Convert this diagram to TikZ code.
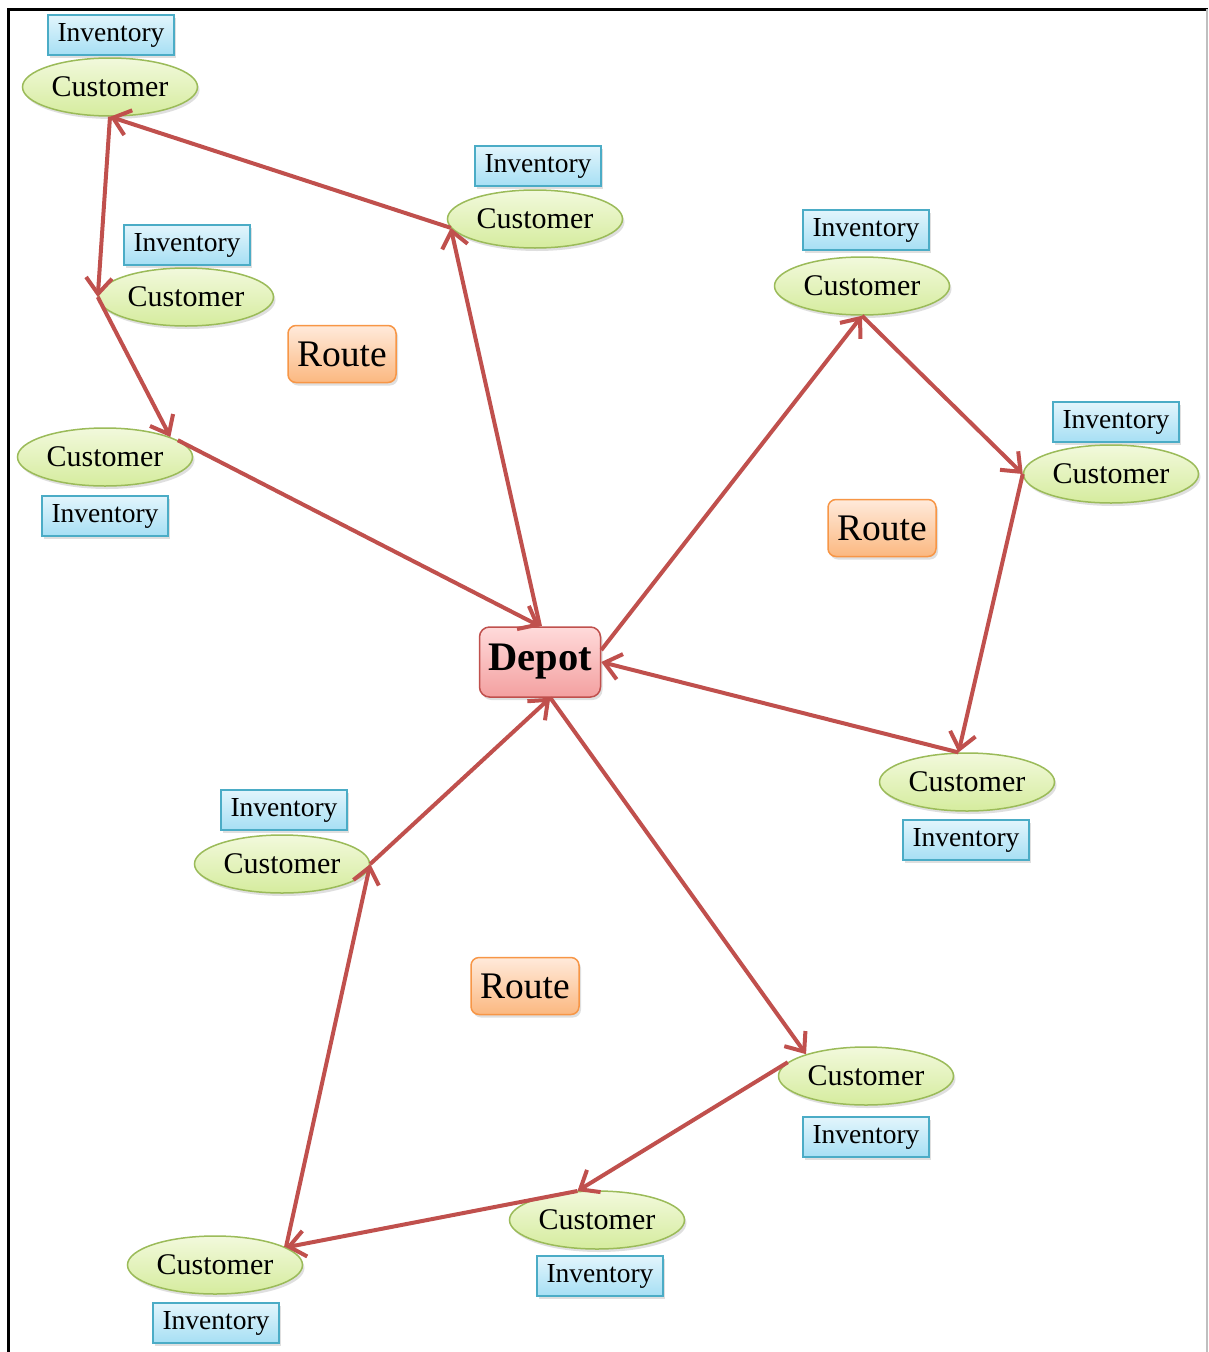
\documentclass[tikz,border=0pt]{standalone}
\usepackage{fontspec}
\setmainfont{Liberation Serif}
\usetikzlibrary{shapes.geometric,arrows.meta,shadows}
\definecolor{arrowred}{HTML}{C0504D}
\definecolor{custborder}{HTML}{9BBB59}
\definecolor{custtop}{HTML}{F2F9DC}
\definecolor{custbot}{HTML}{D5EC9E}
\definecolor{invborder}{HTML}{4BACC6}
\definecolor{invtop}{HTML}{E2F5FC}
\definecolor{invbot}{HTML}{A6DFF4}
\definecolor{routeborder}{HTML}{F79646}
\definecolor{routetop}{HTML}{FFEADB}
\definecolor{routebot}{HTML}{FBB880}
\definecolor{depottop}{HTML}{FFDADA}
\definecolor{depotbot}{HTML}{F3A0A0}
\begin{document}
\begin{tikzpicture}[x=1pt,y=-1pt,
  shad/.style={drop shadow={shadow xshift=2pt,shadow yshift=-3pt,opacity=0.25}},
  cust/.style={ellipse,draw=custborder,line width=1.5pt,top color=custtop,bottom color=custbot,
    minimum width=175pt,minimum height=58pt,inner sep=0pt,font=\fontsize{30}{32}\selectfont,shad},
  inv/.style={rectangle,draw=invborder,line width=1.5pt,top color=invtop,bottom color=invbot,
    minimum width=126pt,minimum height=40pt,inner sep=0pt,font=\fontsize{27.5}{30}\selectfont,shad},
  route/.style={rectangle,rounded corners=8pt,draw=routeborder,line width=1.5pt,top color=routetop,bottom color=routebot,
    minimum width=108pt,minimum height=57pt,inner sep=0pt,font=\fontsize{37.5}{40}\selectfont,shad},
  depot/.style={rectangle,rounded corners=10pt,draw=arrowred,line width=1.5pt,top color=depottop,bottom color=depotbot,
    minimum width=121pt,minimum height=70pt,inner sep=0pt,font=\fontsize{40.5}{44}\selectfont\bfseries,shad},
  link/.style={draw=arrowred,line width=4pt,-{Straight Barb[length=16pt,width=26pt]}}
]
\useasboundingbox (0,0) rectangle (1208,1352);
\fill[white] (0,0) rectangle (1208,1352);
\draw[line width=3pt] (8,1352) -- (8,9) -- (1208,9);
\draw[black!25,line width=1.5pt] (1207,9) -- (1207,1352);

% nodes
\node[inv]  (i1) at (111,35)  {Inventory};
\node[cust] (c1) at (110,87)  {Customer};
\node[inv]  (i2) at (538,166) {Inventory};
\node[cust] (c2) at (535,219) {Customer};
\node[inv]  (i3) at (187,245) {Inventory};
\node[cust] (c3) at (186,297) {Customer};
\node[route] (r1) at (342,354) {Route};
\node[cust] (c5) at (105,457) {Customer};
\node[inv]  (i5) at (105,516) {Inventory};
\node[inv]  (i6) at (866,230) {Inventory};
\node[cust] (c6) at (862,286) {Customer};
\node[inv]  (i7) at (1116,422) {Inventory};
\node[cust] (c7) at (1111,474) {Customer};
\node[route] (r2) at (882,528) {Route};
\node[depot] (d) at (540,662) {Depot};
\node[cust] (c10) at (967,782) {Customer};
\node[inv]  (i10) at (966,840) {Inventory};
\node[inv]  (i11) at (284,810) {Inventory};
\node[cust] (c11) at (282,864) {Customer};
\node[route] (r3) at (525,986) {Route};
\node[cust] (c13) at (866,1076) {Customer};
\node[inv]  (i13) at (866,1137) {Inventory};
\node[cust] (c14) at (597,1220) {Customer};
\node[inv]  (i14) at (600,1276) {Inventory};
\node[cust] (c15) at (215,1265) {Customer};
\node[inv]  (i15) at (216,1323) {Inventory};

% routes
\draw[link] (c2.186) -- (c1.south);
\draw[link] (c1.south) -- (c3.west);
\draw[link] (c3.west) -- (c5.17);
\draw[link] (c5.13) -- (d.north);
\draw[link] (d.north) -- (c2.186);

\draw[link] (d.11) -- (c6.south);
\draw[link] (c6.south) -- (c7.west);
\draw[link] (c7.west) -- (c10.106);
\draw[link] (c10.106) -- (d.east);

\draw[link] (d.286) -- (c13.160);
\draw[link] (c13.170) -- (c14.124);
\draw[link] (c14.124) -- (c15.14);
\draw[link] (c15.14) -- (c11.east);
\draw[link] (c11.east) -- (d.286);
\end{tikzpicture}
\end{document}
